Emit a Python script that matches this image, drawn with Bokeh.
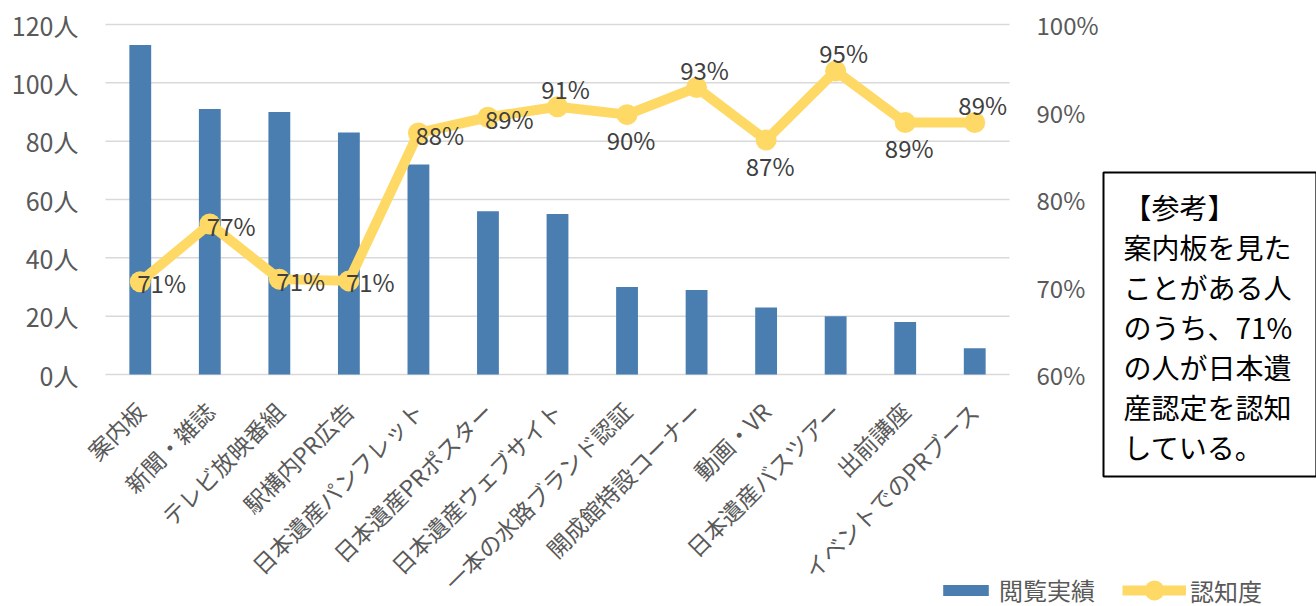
import math
from bokeh.plotting import figure
from bokeh.models import Range1d, ColumnDataSource, Legend, LegendItem, Label
from bokeh.embed import file_html
from bokeh.resources import INLINE
from bokeh.core.properties import value

# ---------------- data ----------------
categories = ["案内板", "新聞・雑誌", "テレビ放映番組", "駅構内PR広告", "日本遺産パンフレット",
              "日本遺産PRポスター", "日本遺産ウェブサイト", "一本の水路ブランド認証",
              "開成館特設コーナー", "動画・VR", "日本遺産バスツアー", "出前講座",
              "イベントでのPRブース"]
views = [113, 91, 90, 83, 72, 56, 55, 30, 29, 23, 20, 18, 9]
awareness = [0.706, 0.772, 0.709, 0.707, 0.876, 0.894, 0.906, 0.897, 0.928, 0.868, 0.947, 0.888, 0.888]
series_names = ["閲覧実績", "認知度"]
left_ticks = [0, 20, 40, 60, 80, 100, 120]
right_ticks = [0.6, 0.7, 0.8, 0.9, 1.0]
note_text = "【参考】\n案内板を見た\nことがある人\nのうち、71%\nの人が日本遺\n産認定を認知\nしている。"

# label placement (style)
label_pos = ["right", "right", "right", "right", "right", "right",
             "above", "below", "above", "below", "above", "below", "above"]

FONT = "Noto Sans CJK JP"
BAR = "#4A7EB1"
GOLD = "#FFD966"
GRID = "#D9D9D9"
TICK = "#595959"

# ---------------- layout (pixels) ----------------
W, H = 1316, 606
PL, PR = 105, 1009          # plot area left / right
PT, PB = 24, 374            # plot area top / bottom
N = len(categories)
xs = list(range(N))
ppu_x = (PR - PL) / N
x_start = -0.5 - PL / ppu_x
x_end = N - 0.5 + (W - PR) / ppu_x
y_lo, y_hi = left_ticks[0], left_ticks[-1]
ppu_y = (PB - PT) / (y_hi - y_lo)
y_start = y_lo - (H - PB) / ppu_y
y_end = y_hi + PT / ppu_y
r_lo, r_hi = right_ticks[0], right_ticks[-1]
ppu_r = (PB - PT) / (r_hi - r_lo)
r_start = r_lo - (H - PB) / ppu_r
r_end = r_hi + PT / ppu_r

p = figure(width=W, height=H, x_range=Range1d(x_start, x_end), y_range=Range1d(y_start, y_end),
           output_backend="svg", toolbar_location=None, x_axis_location=None,
           y_axis_location=None, min_border=0)
p.extra_y_ranges = {"pct": Range1d(r_start, r_end)}
p.outline_line_color = None
p.grid.grid_line_color = None
p.background_fill_color = "white"
p.border_fill_color = "white"

# gridlines (only across the plot area)
p.segment(x0=[-0.5] * len(left_ticks), x1=[N - 0.5] * len(left_ticks),
          y0=left_ticks, y1=left_ticks, line_color=GRID, line_width=1.5)

bars = p.vbar(x=xs, top=views, width=0.314, color=BAR, line_color=None)

src = ColumnDataSource(dict(
    x=xs, y=awareness,
    lab=[f"{round(v * 100)}%" for v in awareness],
    align=["left" if s == "right" else "center" for s in label_pos],
    xo=[-3 if s == "right" else (8 if s == "above" else 4) for s in label_pos],
    yo=[1 if s == "right" else (-18 if s == "above" else 25) for s in label_pos],
))
line = p.line(x="x", y="y", source=src, y_range_name="pct", line_width=10, line_color=GOLD,
              line_join="round")
dots = p.scatter(x="x", y="y", source=src, y_range_name="pct", size=21, fill_color=GOLD,
                 line_color=None)
p.text(x="x", y="y", text="lab", source=src, y_range_name="pct", x_offset="xo", y_offset="yo",
       text_align="align", text_baseline="middle", text_font=value(FONT),
       text_font_size="24px", text_color="#404040")

# category labels (rotated, under the plot area)
p.text(x=xs, y=[y_lo] * N, text=categories, angle=math.pi / 4, x_offset=0, y_offset=32,
       text_align="right", text_baseline="middle", text_font=value(FONT),
       text_font_size="23px", text_color=TICK)

# left count scale
p.text(x=[-0.5] * len(left_ticks), y=left_ticks,
       text=[f"{t}人" for t in left_ticks], x_offset=-27,
       text_align="right", text_baseline="middle", text_font=value(FONT),
       text_font_size="25px", text_color=TICK)

# right percentage scale
p.text(x=[N - 0.5] * len(right_ticks), y=right_ticks, y_range_name="pct",
       text=[f"{round(t * 100)}%" for t in right_ticks], x_offset=27,
       text_align="left", text_baseline="middle", text_font=value(FONT),
       text_font_size="24px", text_color=TICK)

legend_bar = Legend(items=[LegendItem(label=series_names[0], renderers=[bars])],
                    orientation="horizontal", location=(937, -1),
                    glyph_width=57, glyph_height=14, label_text_font=FONT,
                    label_text_font_size="24px", label_text_color=TICK,
                    border_line_color=None, background_fill_alpha=0, padding=0, margin=0,
                    label_standoff=5)
legend_line = Legend(items=[LegendItem(label=series_names[1], renderers=[line, dots])],
                     orientation="horizontal", location=(1122, -9),
                     glyph_width=64, glyph_height=50, label_text_font=FONT,
                     label_text_font_size="24px", label_text_color=TICK,
                     border_line_color=None, background_fill_alpha=0, padding=0, margin=0,
                     label_standoff=4)
p.add_layout(legend_bar)
p.add_layout(legend_line)

note = Label(x=1103, y=H - 172, x_units="screen", y_units="screen", anchor="top_left",
             text=note_text, text_font=FONT, text_font_size="28px", text_color="black",
             text_line_height=1.0, border_line_color="black", border_line_width=2,
             background_fill_color="white",
             padding=dict(left=20, right=24, top=14, bottom=10))
p.add_layout(note)

open("out.html", "w").write(file_html(p, INLINE))
